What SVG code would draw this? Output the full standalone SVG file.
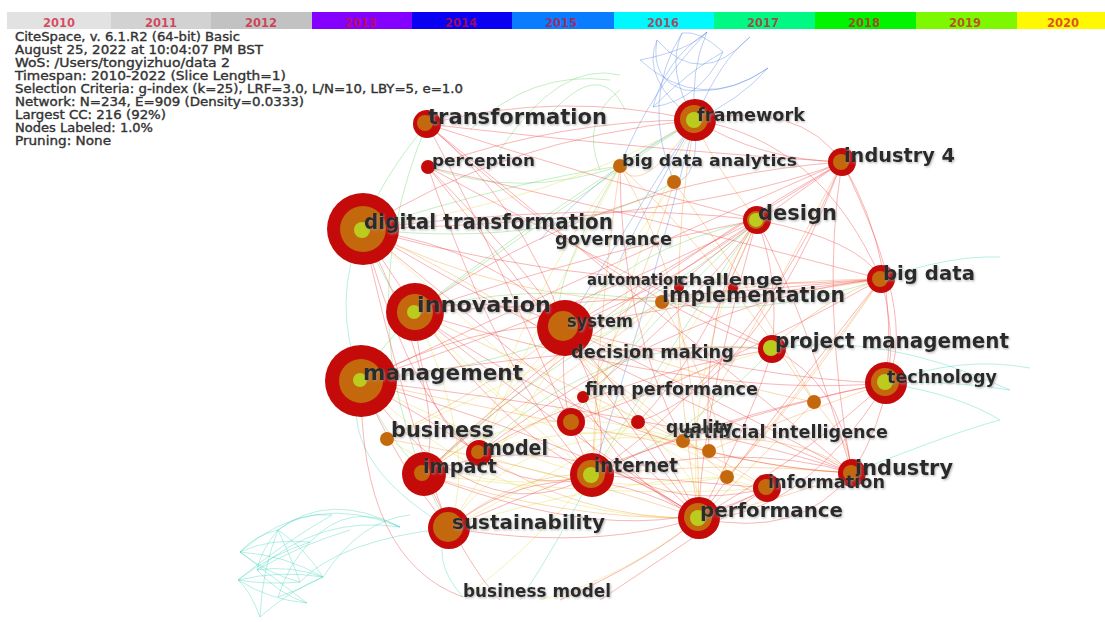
<svg xmlns="http://www.w3.org/2000/svg" width="1105" height="622" viewBox="0 0 1105 622">
<defs>
<style>
.hd{font-family:"DejaVu Sans","Liberation Sans",sans-serif;font-size:11.5px;fill:#333;stroke:#333;stroke-width:0.35}
.yr{font-family:"DejaVu Sans","Liberation Sans",sans-serif;font-size:11.5px;font-weight:bold;fill:#d0102e;fill-opacity:0.72;text-anchor:middle}
.lb{font-family:"DejaVu Sans","Liberation Sans",sans-serif;font-weight:bold;fill:#2a2a2a;filter:url(#sh)}
.e path{fill:none;stroke-width:0.8;stroke-opacity:0.5}
.er{stroke:#f04848}
.eo{stroke:#f3a040}
.ey{stroke:#e6dc50}
.eg{stroke:#6cd86c}
.ec{stroke:#4ad8c0}
.eb{stroke:#5a88e0}
.r{fill:#c50a0a}
.o{fill:#c4680e}
.y{fill:#bccc1e}
</style>
<filter id="sh" x="-5%" y="-20%" width="110%" height="150%">
<feDropShadow dx="1" dy="1.2" stdDeviation="0.8" flood-color="#999" flood-opacity="0.7"/>
</filter>
</defs>
<rect width="1105" height="622" fill="#fff"/>
<g id="timeline">
<rect x="7" y="12" width="104" height="17" fill="#e2e2e2"/>
<rect x="111" y="12" width="100" height="17" fill="#d2d2d2"/>
<rect x="211" y="12" width="101" height="17" fill="#c2c2c2"/>
<rect x="312" y="12" width="100" height="17" fill="#8400ff"/>
<rect x="412" y="12" width="100" height="17" fill="#0a00f2"/>
<rect x="512" y="12" width="102" height="17" fill="#0a7cff"/>
<rect x="614" y="12" width="100" height="17" fill="#00f8ff"/>
<rect x="714" y="12" width="101" height="17" fill="#00f884"/>
<rect x="815" y="12" width="101" height="17" fill="#00f400"/>
<rect x="916" y="12" width="101" height="17" fill="#7ef800"/>
<rect x="1017" y="12" width="88" height="17" fill="#fff800"/>
<text class="yr" x="59" y="27">2010</text>
<text class="yr" x="161" y="27">2011</text>
<text class="yr" x="261" y="27">2012</text>
<text class="yr" x="361" y="27">2013</text>
<text class="yr" x="461" y="27">2014</text>
<text class="yr" x="561" y="27">2015</text>
<text class="yr" x="663" y="27">2016</text>
<text class="yr" x="763" y="27">2017</text>
<text class="yr" x="864" y="27">2018</text>
<text class="yr" x="965" y="27">2019</text>
<text class="yr" x="1063" y="27">2020</text>
</g>
<g id="header">
<text class="hd" x="15" y="41" textLength="225" lengthAdjust="spacingAndGlyphs">CiteSpace, v. 6.1.R2 (64-bit) Basic</text>
<text class="hd" x="15" y="54" textLength="248" lengthAdjust="spacingAndGlyphs">August 25, 2022 at 10:04:07 PM BST</text>
<text class="hd" x="15" y="67" textLength="215" lengthAdjust="spacingAndGlyphs">WoS: /Users/tongyizhuo/data 2</text>
<text class="hd" x="15" y="80" textLength="271" lengthAdjust="spacingAndGlyphs">Timespan: 2010-2022 (Slice Length=1)</text>
<text class="hd" x="15" y="93" textLength="448" lengthAdjust="spacingAndGlyphs">Selection Criteria: g-index (k=25), LRF=3.0, L/N=10, LBY=5, e=1.0</text>
<text class="hd" x="15" y="106" textLength="289" lengthAdjust="spacingAndGlyphs">Network: N=234, E=909 (Density=0.0333)</text>
<text class="hd" x="15" y="119" textLength="151" lengthAdjust="spacingAndGlyphs">Largest CC: 216 (92%)</text>
<text class="hd" x="15" y="132" textLength="138" lengthAdjust="spacingAndGlyphs">Nodes Labeled: 1.0%</text>
<text class="hd" x="15" y="145" textLength="96" lengthAdjust="spacingAndGlyphs">Pruning: None</text>
</g>
<g id="connectors" class="e">
<g class="ec">
<path d="M278 530 Q255 535 240 552"/><path d="M278 530 Q262 548 257 570"/><path d="M278 530 Q305 548 323 577"/><path d="M278 530 Q292 560 300 582"/>
<path d="M310 542 Q270 538 240 552"/><path d="M310 542 Q270 555 238 580"/><path d="M310 542 Q288 565 278 597"/><path d="M240 552 Q285 555 323 577"/>
<path d="M240 552 Q270 575 300 582"/><path d="M257 570 Q290 565 323 577"/><path d="M257 570 Q280 595 307 603"/><path d="M238 580 Q280 570 323 577"/>
<path d="M238 580 Q270 600 307 603"/><path d="M260 617 Q262 570 278 530"/><path d="M260 617 Q290 590 323 577"/><path d="M307 603 Q270 575 240 552"/>
<path d="M300 582 Q268 585 238 580"/><path d="M278 530 Q330 490 400 527"/><path d="M310 542 Q350 500 400 527"/><path d="M240 552 Q310 490 400 527"/>
<path d="M332 515 Q280 545 238 580"/><path d="M350 530 Q300 545 257 570"/><path d="M278 530 Q300 512 332 515"/><path d="M257 570 Q320 515 400 527"/>
<path d="M260 617 Q250 590 238 580"/><path d="M278 597 Q300 590 323 577"/><path d="M300 582 Q340 540 449 528"/><path d="M323 577 Q360 520 410 515"/>
<path d="M886 383 Q960 355 1030 368"/><path d="M886 383 Q960 395 1000 420"/><path d="M886 383 Q950 380 1010 390"/><path d="M881 279 Q950 255 1000 257"/>
<path d="M361 381 Q330 300 363 229"/><path d="M361 381 Q335 460 449 528"/><path d="M463 597 Q430 560 449 528"/><path d="M520 600 Q560 540 592 475"/>
<path d="M852 473 Q960 430 1000 420"/><path d="M772 349 Q880 330 1010 390"/>
</g>
<g class="eb">
<path d="M695 120 Q640 80 657 40"/><path d="M695 120 Q665 70 682 33"/><path d="M695 120 Q690 70 707 32"/><path d="M653 107 Q700 100 723 52"/>
<path d="M640 60 Q700 115 768 68"/><path d="M657 40 Q700 90 750 37"/><path d="M685 90 Q730 95 768 68"/><path d="M682 33 Q700 30 723 52"/>
<path d="M707 32 Q665 60 653 107"/><path d="M695 120 Q720 60 750 37"/><path d="M695 120 Q740 100 768 68"/><path d="M640 60 Q690 50 707 32"/>
<path d="M657 40 Q650 80 685 90"/><path d="M723 52 Q690 70 653 107"/><path d="M695 120 Q650 200 620 260"/><path d="M695 120 Q630 220 565 328"/>
<path d="M695 120 Q650 300 592 475"/><path d="M695 120 Q600 170 540 240"/><path d="M695 120 Q700 180 674 182"/><path d="M674 182 Q640 100 682 33"/>
<path d="M620 166 Q650 90 707 32"/>
</g>
<g class="eg">
<path d="M427 124 Q380 180 363 229"/><path d="M363 229 Q390 300 415 312"/><path d="M415 312 Q370 360 361 381"/><path d="M361 381 Q380 430 424 474"/>
<path d="M620 166 Q520 200 428 167"/><path d="M674 182 Q560 250 363 229"/><path d="M757 220 Q620 250 565 328"/><path d="M695 120 Q600 180 415 312"/>
<path d="M662 302 Q520 280 415 312"/><path d="M757 220 Q700 300 592 475"/><path d="M881 279 Q760 320 662 302"/><path d="M565 328 Q540 300 620 166"/>
<path d="M470 130 Q530 70 610 80"/><path d="M500 150 Q560 60 620 75"/><path d="M545 120 Q600 55 625 110"/><path d="M600 170 Q580 120 620 90"/>
<path d="M427 124 Q340 330 449 528"/><path d="M361 381 Q600 360 757 220"/><path d="M415 312 Q560 200 695 120"/><path d="M479 453 Q600 330 772 349"/>
<path d="M424 474 Q520 380 662 302"/><path d="M571 422 Q640 330 757 220"/><path d="M772 349 Q700 430 592 475"/><path d="M363 229 Q520 180 620 166"/>
</g>
<g class="ey">
<path d="M363 229 Q480 330 571 422"/><path d="M415 312 Q500 400 592 475"/><path d="M361 381 Q520 460 592 475"/><path d="M479 453 Q580 420 683 441"/>
<path d="M424 474 Q620 500 767 488"/><path d="M449 528 Q600 480 727 477"/><path d="M620 166 Q520 300 479 453"/><path d="M674 182 Q580 320 449 528"/>
<path d="M695 120 Q600 320 592 475"/><path d="M757 220 Q680 380 699 518"/><path d="M565 328 Q480 430 424 474"/><path d="M662 302 Q600 400 479 453"/>
<path d="M583 397 Q680 450 767 488"/><path d="M638 422 Q720 500 699 518"/><path d="M387 439 Q480 500 592 475"/><path d="M415 312 Q480 450 449 528"/>
<path d="M363 229 Q560 200 695 120"/><path d="M592 475 Q650 400 757 220"/><path d="M479 453 Q520 360 620 166"/><path d="M361 381 Q500 520 699 518"/>
<path d="M449 528 Q520 420 683 441"/><path d="M424 474 Q540 380 709 451"/><path d="M387 439 Q560 360 662 302"/><path d="M479 453 Q600 500 727 477"/>
<path d="M565 328 Q640 470 767 488"/><path d="M592 475 Q520 560 463 597"/><path d="M699 518 Q620 580 540 600"/><path d="M571 422 Q660 380 772 349"/>
<path d="M638 422 Q560 470 449 528"/><path d="M415 312 Q540 470 638 422"/>
</g>
<g class="eo">
<path d="M415 312 Q560 380 683 441"/><path d="M361 381 Q540 420 709 451"/><path d="M363 229 Q560 320 727 477"/><path d="M620 166 Q700 300 699 518"/>
<path d="M620 166 Q600 300 592 475"/><path d="M674 182 Q640 300 571 422"/><path d="M662 302 Q760 280 881 279"/><path d="M662 302 Q560 380 424 474"/>
<path d="M683 441 Q800 430 852 473"/><path d="M709 451 Q780 420 886 383"/><path d="M727 477 Q800 400 881 279"/><path d="M814 402 Q760 460 699 518"/>
<path d="M814 402 Q700 380 565 328"/><path d="M387 439 Q500 380 565 328"/><path d="M387 439 Q560 470 699 518"/><path d="M695 120 Q660 300 699 518"/>
<path d="M695 120 Q640 200 620 166"/><path d="M695 120 Q710 160 757 220"/><path d="M881 279 Q760 300 662 302"/><path d="M592 475 Q720 460 852 473"/>
<path d="M449 528 Q520 470 592 475"/><path d="M699 518 Q780 500 852 473"/><path d="M424 474 Q560 520 699 518"/><path d="M772 349 Q820 300 881 279"/>
<path d="M683 441 Q740 470 767 488"/><path d="M709 451 Q780 470 852 473"/><path d="M727 477 Q760 500 767 488"/><path d="M814 402 Q850 440 852 473"/>
<path d="M662 302 Q720 400 727 477"/><path d="M620 166 Q720 260 814 402"/><path d="M674 182 Q760 300 814 402"/><path d="M363 229 Q500 300 662 302"/>
<path d="M479 453 Q580 520 699 518"/><path d="M565 328 Q620 400 683 441"/><path d="M881 279 Q780 420 727 477"/><path d="M842 162 Q740 360 683 441"/>
</g>
<g class="er">
<path d="M427 124 Q520 200 565 328"/><path d="M427 124 Q500 260 592 475"/><path d="M427 124 Q600 180 757 220"/><path d="M427 124 Q650 150 842 162"/>
<path d="M427 124 Q620 300 772 349"/><path d="M427 124 Q680 330 852 473"/><path d="M428 167 Q520 260 565 328"/><path d="M428 167 Q560 330 699 518"/>
<path d="M428 167 Q600 260 772 349"/><path d="M428 167 Q500 380 592 475"/><path d="M363 229 Q500 250 565 328"/><path d="M363 229 Q600 200 757 220"/>
<path d="M363 229 Q620 300 881 279"/><path d="M363 229 Q480 420 592 475"/><path d="M363 229 Q400 400 449 528"/><path d="M363 229 Q600 420 699 518"/>
<path d="M363 229 Q620 380 852 473"/><path d="M415 312 Q500 290 565 328"/><path d="M415 312 Q600 250 757 220"/><path d="M415 312 Q650 300 881 279"/>
<path d="M415 312 Q560 430 699 518"/><path d="M415 312 Q700 400 886 383"/><path d="M361 381 Q480 320 565 328"/><path d="M361 381 Q600 300 757 220"/>
<path d="M361 381 Q600 450 699 518"/><path d="M361 381 Q620 340 772 349"/><path d="M361 381 Q700 420 852 473"/><path d="M361 381 Q400 470 449 528"/>
<path d="M361 381 Q640 250 842 162"/><path d="M565 328 Q680 280 757 220"/><path d="M565 328 Q700 300 881 279"/><path d="M565 328 Q650 420 699 518"/>
<path d="M565 328 Q720 400 852 473"/><path d="M565 328 Q620 430 592 475"/><path d="M592 475 Q700 420 886 383"/><path d="M592 475 Q680 480 767 488"/>
<path d="M592 475 Q740 440 852 473"/><path d="M699 518 Q800 460 886 383"/><path d="M699 518 Q760 400 772 349"/><path d="M757 220 Q800 300 852 473"/>
<path d="M757 220 Q780 280 772 349"/><path d="M842 162 Q820 300 852 473"/><path d="M842 162 Q700 260 662 302"/><path d="M842 162 Q720 240 565 328"/>
<path d="M881 279 Q800 380 699 518"/><path d="M695 120 Q820 140 881 279"/><path d="M695 120 Q760 160 842 162"/><path d="M449 528 Q560 440 699 518"/>
<path d="M424 474 Q560 420 699 518"/><path d="M479 453 Q600 380 772 349"/><path d="M424 474 Q560 350 757 220"/><path d="M571 422 Q700 380 881 279"/>
<path d="M638 422 Q760 380 842 162"/><path d="M583 397 Q700 300 757 220"/><path d="M424 474 Q600 300 842 162"/><path d="M449 528 Q700 420 886 383"/>
<path d="M479 453 Q680 300 881 279"/><path d="M415 312 Q600 180 842 162"/><path d="M363 229 Q700 220 842 162"/><path d="M592 475 Q760 360 842 162"/>
<path d="M428 167 Q700 230 881 279"/><path d="M424 474 Q640 560 767 488"/><path d="M449 528 Q640 560 767 488"/><path d="M565 328 Q760 380 886 383"/>
<path d="M699 518 Q700 420 757 220"/><path d="M363 229 Q440 520 592 475"/><path d="M415 312 Q620 460 852 473"/><path d="M772 349 Q840 380 852 473"/>
<path d="M757 220 Q860 240 881 279"/><path d="M842 162 Q900 260 886 383"/><path d="M361 381 Q360 560 463 597"/><path d="M424 474 Q470 570 500 600"/>
<path d="M699 518 Q650 560 560 600"/><path d="M767 488 Q660 560 600 600"/><path d="M881 279 Q910 380 852 473"/><path d="M842 162 Q920 320 886 383"/>
<path d="M695 120 Q800 100 842 162"/><path d="M427 124 Q560 90 695 120"/><path d="M428 167 Q560 120 695 120"/><path d="M363 229 Q500 140 695 120"/>
<path d="M361 381 Q480 540 592 475"/><path d="M415 312 Q420 420 479 453"/><path d="M361 381 Q430 420 479 453"/><path d="M363 229 Q450 400 424 474"/>
<path d="M565 328 Q560 390 571 422"/><path d="M583 397 Q620 480 699 518"/><path d="M638 422 Q700 360 757 220"/><path d="M571 422 Q640 520 767 488"/>
<path d="M683 441 Q620 320 620 166"/><path d="M709 451 Q700 300 757 220"/><path d="M886 383 Q800 520 699 518"/><path d="M852 473 Q800 540 699 518"/>
</g>
</g>
<g id="n-digital-transformation"><circle class="r" cx="363" cy="229" r="36"/><circle class="o" cx="363" cy="229" r="23"/><circle class="y" cx="362" cy="230" r="8"/></g>
<g id="n-management"><circle class="r" cx="361" cy="381" r="36"/><circle class="o" cx="361" cy="381" r="22"/><circle class="y" cx="360" cy="380" r="7"/></g>
<g id="n-innovation"><circle class="r" cx="415" cy="312" r="29"/><circle class="o" cx="415" cy="312" r="18"/><circle class="y" cx="414" cy="312" r="7"/></g>
<g id="n-system"><circle class="r" cx="565" cy="328" r="28"/><circle class="o" cx="563" cy="326" r="15"/></g>
<g id="n-transformation"><circle class="r" cx="427" cy="124" r="14"/><circle class="o" cx="425" cy="123" r="8"/></g>
<g id="n-perception"><circle class="r" cx="428" cy="167" r="7"/></g>
<g id="n-big-data-analytics"><circle class="o" cx="620" cy="166" r="7"/></g>
<g id="n-o1"><circle class="o" cx="674" cy="182" r="7"/></g>
<g id="n-framework"><circle class="r" cx="695" cy="120" r="21"/><circle class="o" cx="694" cy="119" r="14"/><circle class="y" cx="694" cy="120" r="8"/></g>
<g id="n-industry-4"><circle class="r" cx="842" cy="162" r="14"/><circle class="o" cx="841" cy="162" r="8"/></g>
<g id="n-design"><circle class="r" cx="757" cy="220" r="14"/><circle class="o" cx="756" cy="220" r="9"/><circle class="y" cx="756" cy="220" r="7"/></g>
<g id="n-big-data"><circle class="r" cx="881" cy="279" r="14"/><circle class="o" cx="880" cy="279" r="8"/></g>
<g id="n-automation"><circle class="r" cx="679" cy="287" r="5"/></g>
<g id="n-challenge"><circle class="r" cx="733" cy="288" r="5"/></g>
<g id="n-o2"><circle class="o" cx="662" cy="302" r="7"/></g>
<g id="n-firm-performance"><circle class="r" cx="583" cy="397" r="6"/></g>
<g id="n-ring"><circle class="r" cx="571" cy="422" r="14"/><circle class="o" cx="571" cy="422" r="8"/></g>
<g id="n-red"><circle class="r" cx="638" cy="422" r="7"/></g>
<g id="n-business"><circle class="o" cx="387" cy="439" r="7"/></g>
<g id="n-model"><circle class="r" cx="479" cy="453" r="13"/><circle class="o" cx="478" cy="452" r="7"/></g>
<g id="n-impact"><circle class="r" cx="424" cy="474" r="22"/><circle class="o" cx="422" cy="473" r="8"/></g>
<g id="n-internet"><circle class="r" cx="592" cy="475" r="22"/><circle class="o" cx="591" cy="474" r="14"/><circle class="y" cx="591" cy="475" r="8"/></g>
<g id="n-quality"><circle class="o" cx="683" cy="441" r="7"/></g>
<g id="n-o3"><circle class="o" cx="709" cy="451" r="7"/></g>
<g id="n-o4"><circle class="o" cx="727" cy="477" r="7"/></g>
<g id="n-project-management"><circle class="r" cx="772" cy="349" r="14"/><circle class="y" cx="771" cy="348" r="8"/></g>
<g id="n-technology"><circle class="r" cx="886" cy="383" r="21"/><circle class="o" cx="885" cy="382" r="14"/><circle class="y" cx="885" cy="382" r="8"/></g>
<g id="n-o5"><circle class="o" cx="814" cy="402" r="7"/></g>
<g id="n-industry"><circle class="r" cx="852" cy="473" r="14"/><circle class="o" cx="851" cy="473" r="8"/></g>
<g id="n-information"><circle class="r" cx="767" cy="488" r="14"/><circle class="o" cx="766" cy="487" r="8"/></g>
<g id="n-performance"><circle class="r" cx="699" cy="518" r="21"/><circle class="o" cx="698" cy="517" r="14"/><circle class="y" cx="698" cy="518" r="8"/></g>
<g id="n-sustainability"><circle class="r" cx="449" cy="528" r="21"/><circle class="o" cx="448" cy="527" r="15"/></g>
<g id="labels">
<text class="lb" x="428" y="124" font-size="21" textLength="179" lengthAdjust="spacingAndGlyphs">transformation</text>
<text class="lb" x="432" y="166" font-size="16" textLength="103" lengthAdjust="spacingAndGlyphs">perception</text>
<text class="lb" x="622" y="166" font-size="16" textLength="175" lengthAdjust="spacingAndGlyphs">big data analytics</text>
<text class="lb" x="364" y="229" font-size="21" textLength="249" lengthAdjust="spacingAndGlyphs">digital transformation</text>
<text class="lb" x="555" y="245" font-size="17" textLength="117" lengthAdjust="spacingAndGlyphs">governance</text>
<text class="lb" x="697" y="121" font-size="18" textLength="108" lengthAdjust="spacingAndGlyphs">framework</text>
<text class="lb" x="844" y="162" font-size="20" textLength="111" lengthAdjust="spacingAndGlyphs">industry 4</text>
<text class="lb" x="758" y="220" font-size="21" textLength="79" lengthAdjust="spacingAndGlyphs">design</text>
<text class="lb" x="883" y="280" font-size="20" textLength="92" lengthAdjust="spacingAndGlyphs">big data</text>
<text class="lb" x="587" y="285" font-size="16" textLength="97" lengthAdjust="spacingAndGlyphs">automation</text>
<text class="lb" x="677" y="285" font-size="16" textLength="106" lengthAdjust="spacingAndGlyphs">challenge</text>
<text class="lb" x="662" y="302" font-size="21" textLength="183" lengthAdjust="spacingAndGlyphs">implementation</text>
<text class="lb" x="417" y="312" font-size="22" textLength="134" lengthAdjust="spacingAndGlyphs">innovation</text>
<text class="lb" x="567" y="327" font-size="17" textLength="66" lengthAdjust="spacingAndGlyphs">system</text>
<text class="lb" x="571" y="358" font-size="17" textLength="163" lengthAdjust="spacingAndGlyphs">decision making</text>
<text class="lb" x="363" y="380" font-size="22" textLength="160" lengthAdjust="spacingAndGlyphs">management</text>
<text class="lb" x="585" y="395" font-size="17" textLength="173" lengthAdjust="spacingAndGlyphs">firm performance</text>
<text class="lb" x="391" y="437" font-size="21" textLength="103" lengthAdjust="spacingAndGlyphs">business</text>
<text class="lb" x="482" y="455" font-size="21" textLength="66" lengthAdjust="spacingAndGlyphs">model</text>
<text class="lb" x="423" y="473" font-size="19" textLength="74" lengthAdjust="spacingAndGlyphs">impact</text>
<text class="lb" x="594" y="472" font-size="19" textLength="84" lengthAdjust="spacingAndGlyphs">internet</text>
<text class="lb" x="683" y="438" font-size="17" textLength="205" lengthAdjust="spacingAndGlyphs">artificial intelligence</text>
<text class="lb" x="666" y="433" font-size="17" textLength="67" lengthAdjust="spacingAndGlyphs">quality</text>
<text class="lb" x="775" y="348" font-size="21" textLength="234" lengthAdjust="spacingAndGlyphs">project management</text>
<text class="lb" x="887" y="383" font-size="18" textLength="110" lengthAdjust="spacingAndGlyphs">technology</text>
<text class="lb" x="855" y="475" font-size="22" textLength="98" lengthAdjust="spacingAndGlyphs">industry</text>
<text class="lb" x="768" y="488" font-size="17" textLength="117" lengthAdjust="spacingAndGlyphs">information</text>
<text class="lb" x="700" y="517" font-size="20" textLength="143" lengthAdjust="spacingAndGlyphs">performance</text>
<text class="lb" x="452" y="529" font-size="20" textLength="153" lengthAdjust="spacingAndGlyphs">sustainability</text>
<text class="lb" x="463" y="597" font-size="17" textLength="148" lengthAdjust="spacingAndGlyphs">business model</text>
</g>
</svg>
